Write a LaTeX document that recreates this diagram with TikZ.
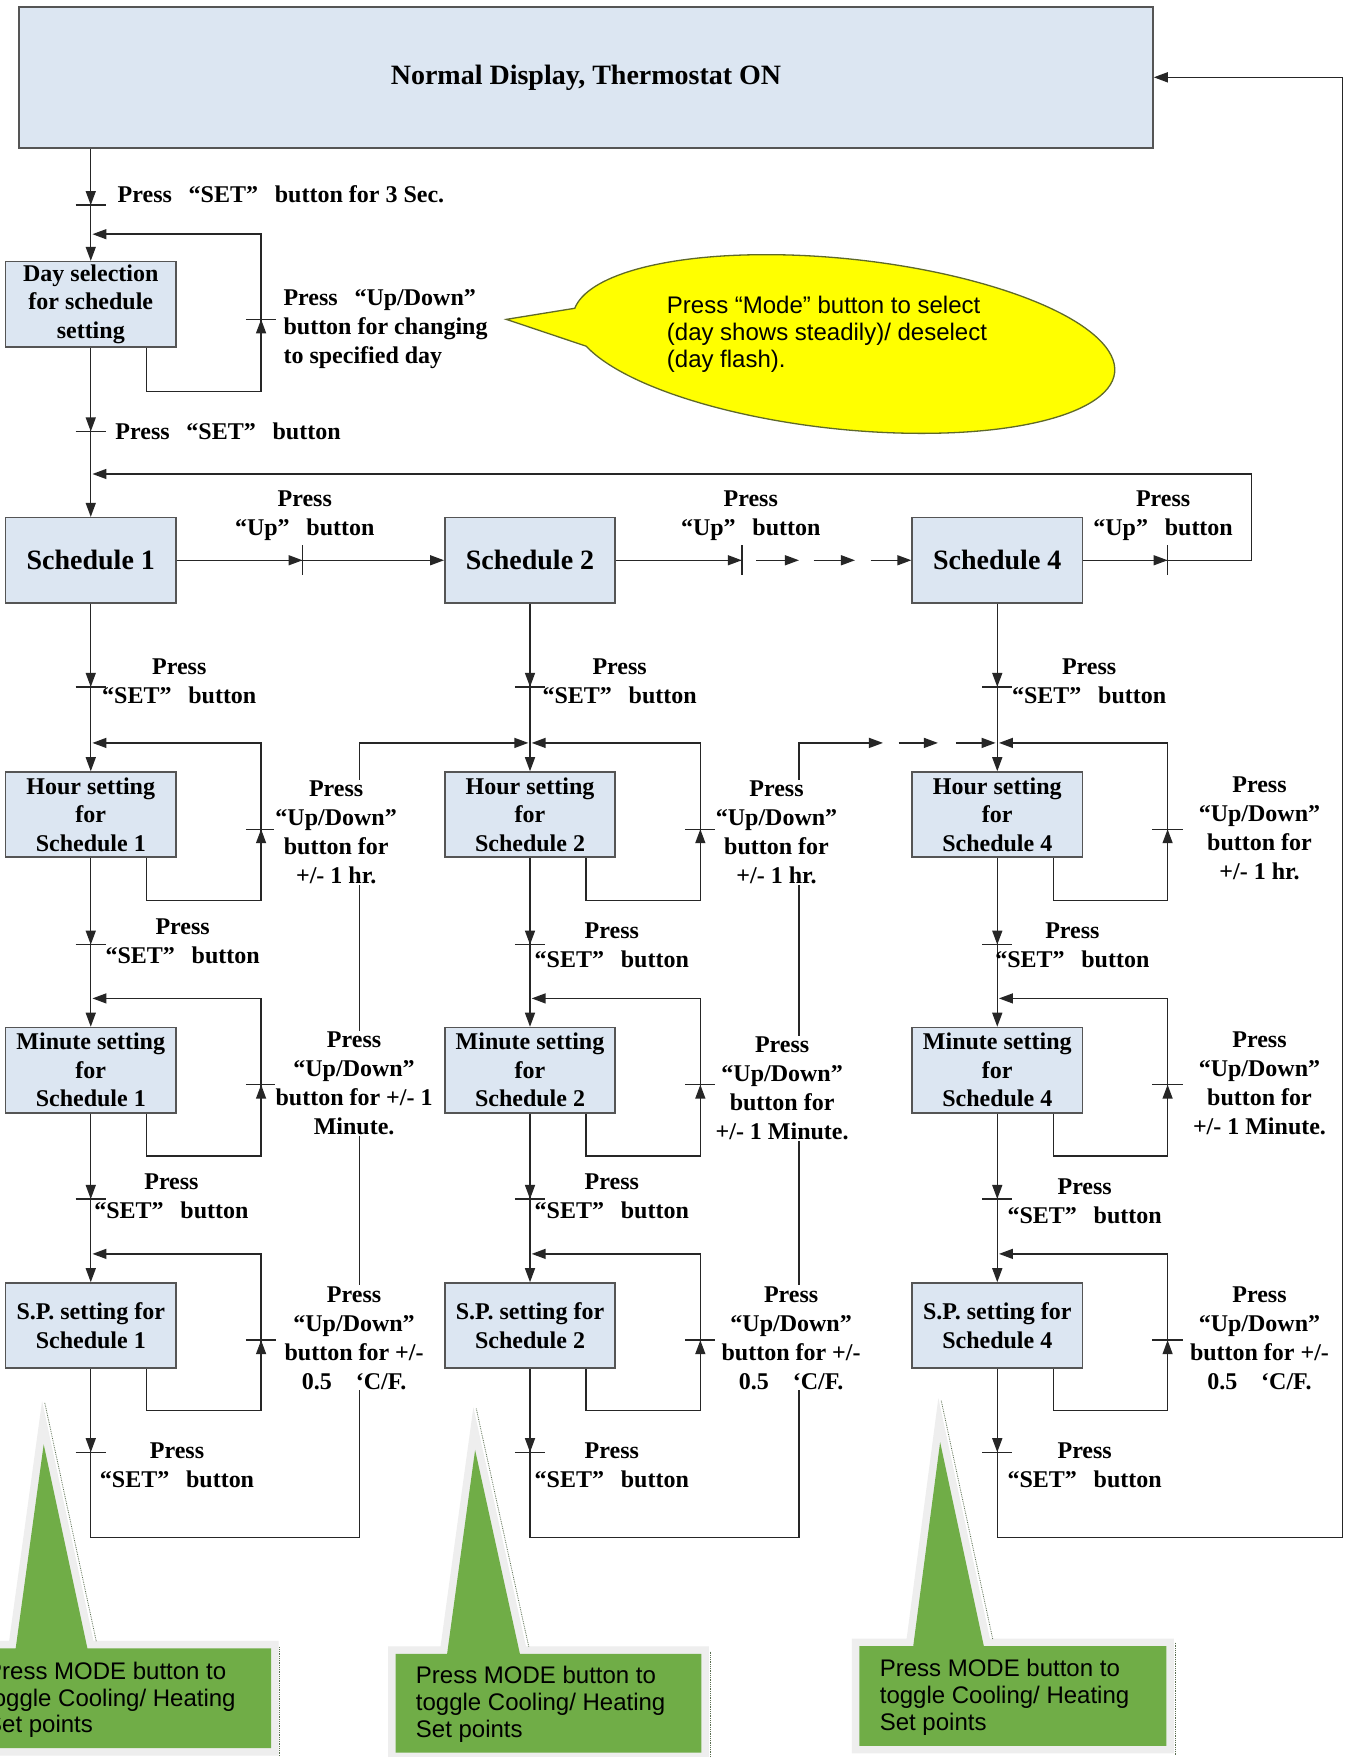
\documentclass[tikz,border=0pt]{standalone}
\usepackage{fontspec}
\setmainfont{Liberation Serif}
\setsansfont{Liberation Sans}
\usetikzlibrary{arrows.meta,calc}
\definecolor{boxfill}{RGB}{220,230,242}
\definecolor{boxline}{RGB}{85,85,85}
\definecolor{ylw}{RGB}{255,255,0}
\definecolor{ylwline}{RGB}{95,105,40}
\definecolor{grn}{RGB}{112,173,71}
\definecolor{grnborder}{RGB}{238,238,238}
\definecolor{grnshadow}{RGB}{90,110,80}
\newcommand\gp{\hspace{0.7em}}
\tikzset{
  conn/.style={line width=1.4pt, draw=black!85},
  arr/.style={conn, -{Triangle[length=14pt,width=10pt]}},
  tickline/.style={line width=1.4pt, draw=black!85},
  stbox/.style={draw=boxline, line width=1.6pt, fill=boxfill, minimum width=170.3pt, minimum height=85.2pt, align=center, font=\bfseries\fontsize{24}{28.5}\selectfont, inner sep=1pt},
  schbox/.style={stbox, font=\bfseries\fontsize{28}{34}\selectfont},
  lbl/.style={align=center, font=\bfseries\fontsize{24}{29}\selectfont, inner sep=1pt},
  lblw/.style={lbl, fill=white},
  lbll/.style={lbl, align=left},
  calltext/.style={font=\sffamily\fontsize{24}{26.9}\selectfont, align=left, anchor=west, inner sep=0pt},
  ycall/.style={draw=ylwline, fill=ylw, line width=1.3pt, line join=miter},
  gcall/.style={fill=grn, preaction={draw=grnborder, line width=15pt, line join=miter, miter limit=10}},
  gshadow/.style={draw=grnshadow, line width=0.8pt, densely dotted},
  tdown/.pic={\draw[tickline] (-13.5,0) -- (13.5,0); \draw[arr] (0,-14) -- (0,0);},
  tup/.pic={\draw[tickline] (-13.5,0) -- (13.5,0); \draw[arr] (0,14) -- (0,0);},
  tright/.pic={\draw[tickline] (0,-13.5) -- (0,13.5); \draw[arr] (-14,0) -- (0,0);},
}
\begin{document}
\begin{tikzpicture}[x=1.1207pt, y=-1.1207pt]
\useasboundingbox (0,0) rectangle (1201,1568);
\clip (0,0) rectangle (1201,1568);
\fill[white] (0,0) rectangle (1201,1568);

% ---------- boxes ----------
\node[stbox, minimum width=1134pt, minimum height=141.2pt, font=\bfseries\fontsize{28}{34}\selectfont] (top) at (523,69) {Normal Display, Thermostat ON};
\node[stbox] (day) at (81,271.5) {Day selection\\for schedule\\setting};

\foreach \c/\n in {81/1,473/2,890/4}{
  \node[schbox] (s\n) at (\c,500) {Schedule \n};
  \node[stbox] (h\n) at (\c,727) {Hour setting\\for\\Schedule \n};
  \node[stbox] (m\n) at (\c,955) {Minute setting\\for\\Schedule \n};
  \node[stbox] (p\n) at (\c,1183) {S.P. setting for\\Schedule \n};
  \coordinate (hin\n) at (\c+1.5,663);
  \coordinate (min\n) at (\c+1.5,891);
  \coordinate (pin\n) at (\c+1.5,1119);
  \draw[arr] (s\n.south) -- (h\n.north);
  \draw[arr] (h\n.south) -- (m\n.north);
  \draw[arr] (m\n.south) -- (p\n.north);
  \pic at (\c,613) {tdown};
  \pic at (\c,843) {tdown};
  \pic at (\c,1070) {tdown};
  \pic at (\c,1296) {tdown};
  \draw[arr] ($(h\n.south)+(50,0)$) -- ++(0,38) -| (\c+152,663) -- (hin\n);
  \pic at (\c+152,740) {tup};
  \draw[arr] ($(m\n.south)+(50,0)$) -- ++(0,38) -| (\c+152,891) -- (min\n);
  \pic at (\c+152,968) {tup};
  \draw[arr] ($(p\n.south)+(50,0)$) -- ++(0,37) -| (\c+152,1119) -- (pin\n);
  \pic at (\c+152,1196) {tup};
}

% ---------- top part ----------
\coordinate (dayin) at (82.5,209);
\coordinate (s1in) at (82.5,423);
\draw[arr] (top.south -| day.north) -- (day.north);
\pic at (81,183) {tdown};
\draw[arr] ($(day.south)+(50,0)$) -- ++(0,39) -| (233,209) -- (dayin);
\pic at (233,285) {tup};
\draw[arr] (day.south) -- (s1.north);
\pic at (81,385) {tdown};

% ---------- schedule row ----------
\draw[arr] (s1.east) -- (s2.west);
\pic at (270,500) {tright};
\draw[conn] (s2.east) -- (662,500);
\pic at (662,500) {tright};
\draw[arr] (675,500) -- (713,500);
\draw[arr] (726,500) -- (763,500);
\draw[arr] (777,500) -- (s4.west);
\draw[arr] (s4.east) -- (1117,500) |- (s1in);
\pic at (1042,500) {tright};

% ---------- feedback lines ----------
\coordinate (hinL2) at (471.5,663);
\coordinate (hinL4) at (888.5,663);
\coordinate (fbx1) at (321,1372);
\coordinate (fbx2) at (713,1372);
\coordinate (fbx4) at (1198,1372);
\draw[arr] (p1.south) |- (fbx1) |- (hinL2);
\draw[arr] (p2.south) |- (fbx2) -- (713,663) -- (788,663);
\draw[arr] (802,663) -- (837,663);
\draw[arr] (853,663) -- (hinL4);
\draw[arr] (p4.south) |- (fbx4) |- (top.east);

% ---------- labels ----------
\node[lbll, anchor=west] (lset0) at (104,173) {Press\gp“SET”\gp button for 3 Sec.};
\node[lbll, anchor=west] (lday) at (252,294) {Press\gp“Up/Down”\\button for changing\\to specified day};
\node[lbll, anchor=west] (lset1) at (102,385) {Press\gp“SET”\gp button};

\node[lbl] (lup1) at (272,460) {Press\\“Up”\gp button};
\node[lbl] (lup2) at (670,460) {Press\\“Up”\gp button};
\node[lbl] (lup4) at (1038,460) {Press\\“Up”\gp button};

\node[lbl] (ls11) at (160,608) {Press\\“SET”\gp button};
\node[lbl] (ls12) at (163,840) {Press\\“SET”\gp button};
\node[lbl] (ls13) at (153,1068) {Press\\“SET”\gp button};
\node[lbl] (ls14) at (158,1308) {Press\\“SET”\gp button};
\node[lbl] (ls21) at (553,608) {Press\\“SET”\gp button};
\node[lbl] (ls22) at (546,844) {Press\\“SET”\gp button};
\node[lbl] (ls23) at (546,1068) {Press\\“SET”\gp button};
\node[lbl] (ls24) at (546,1308) {Press\\“SET”\gp button};
\node[lbl] (ls41) at (972,608) {Press\\“SET”\gp button};
\node[lbl] (ls42) at (957,844) {Press\\“SET”\gp button};
\node[lbl] (ls43) at (968,1072) {Press\\“SET”\gp button};
\node[lbl] (ls44) at (968,1308) {Press\\“SET”\gp button};

\node[lblw] (lh1) at (300,743) {Press\\“Up/Down”\\button for\\+/- 1 hr.};
\node[lblw] (lm1) at (316,967) {Press\\“Up/Down”\\button for +/- 1\\Minute.};
\node[lblw] (lp1) at (316,1194) {Press\\“Up/Down”\\button for +/-\\0.5\hspace{1em}‘C/F.};
\node[lblw] (lh2) at (693,743) {Press\\“Up/Down”\\button for\\+/- 1 hr.};
\node[lblw] (lm2) at (698,971) {Press\\“Up/Down”\\button for\\+/- 1 Minute.};
\node[lblw] (lp2) at (706,1194) {Press\\“Up/Down”\\button for +/-\\0.5\hspace{1em}‘C/F.};
\node[lbl] (lh4) at (1124,739) {Press\\“Up/Down”\\button for\\+/- 1 hr.};
\node[lbl] (lm4) at (1124,967) {Press\\“Up/Down”\\button for\\+/- 1 Minute.};
\node[lbl] (lp4) at (1124,1194) {Press\\“Up/Down”\\button for +/-\\0.5\hspace{1em}‘C/F.};

% ---------- yellow callout (tilted ellipse with pointer) ----------
\begin{scope}[shift={(753,307)}, rotate=-6]
  \draw[ycall] (160:243 and 76) arc[start angle=160, end angle=-175, x radius=243, y radius=76] -- (-301.8,9.6) -- cycle;
\end{scope}
\node[calltext] (ytext) at (595,298) {Press “Mode” button to select\\(day shows steadily)/ deselect\\(day flash).};

% ---------- green callouts ----------
\path[gcall] (-30,1471) -- (14,1471) -- (39,1289) -- (78,1471) -- (242,1471) -- (242,1560) -- (-30,1560) -- cycle;
\path[gcall] (353,1476) -- (399,1476) -- (424,1294) -- (464,1476) -- (626,1476) -- (626,1564) -- (353,1564) -- cycle;
\path[gcall] (767,1469) -- (815,1469) -- (839,1287) -- (878,1469) -- (1041,1469) -- (1041,1558) -- (767,1558) -- cycle;
\draw[gshadow] (40,1252) -- (86,1465);
\draw[gshadow] (249,1470) -- (249,1568);
\draw[gshadow] (425,1257) -- (472,1470);
\draw[gshadow] (634,1474) -- (634,1568);
\draw[gshadow] (840,1250) -- (886,1463);
\draw[gshadow] (1049,1466) -- (1049,1566);
\node[calltext] (g1) at (-12.5,1517) {Press MODE button to\\toggle Cooling/ Heating\\Set points};
\node[calltext] (g2) at (371,1521) {Press MODE button to\\toggle Cooling/ Heating\\Set points};
\node[calltext] (g3) at (785,1515) {Press MODE button to\\toggle Cooling/ Heating\\Set points};
\end{tikzpicture}
\end{document}
